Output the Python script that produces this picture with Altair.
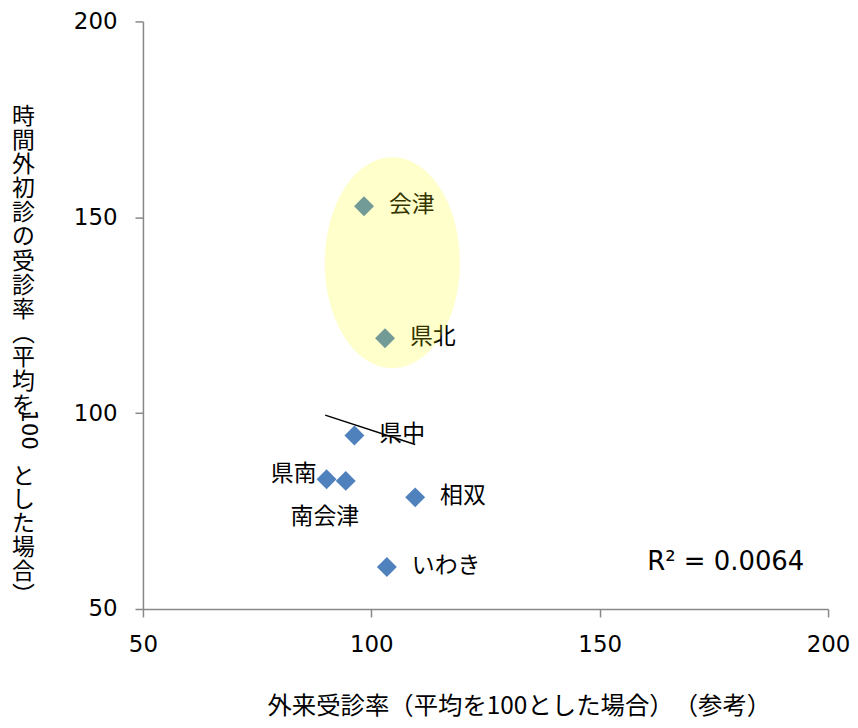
import altair as alt
import pandas as pd

# ---- data ----
names = ["会津", "県北", "県中", "県南", "南会津", "相双", "いわき"]
x_vals = [98.4, 103.0, 96.3, 90.2, 94.4, 109.6, 103.4]
y_vals = [152.8, 119.1, 94.3, 83.1, 82.7, 78.5, 60.7]

trend_x = [89.9, 109.6]
trend_y = [99.5, 92.0]

ellipse_x = [104.6]
ellipse_y = [138.4]

r2_text = ["R² = 0.0064"]
r2_x = [177.6]
r2_y = [62.1]

axis_ticks = [50, 100, 150, 200]
x_title = "外来受診率（平均を100とした場合）\u200b（参考）"
y_title_top = list("時間外初診の受診率︵平均を")
y_title_mid = "100"
y_title_bot = list("とした場合︶")

right_labels = ["会津", "県北", "県中", "相双", "いわき"]

pts = pd.DataFrame({"name": names, "x": x_vals, "y": y_vals})
trend = pd.DataFrame({"x": trend_x, "y": trend_y})
ell = pd.DataFrame({"x": ellipse_x, "y": ellipse_y})
r2 = pd.DataFrame({"t": r2_text, "x": r2_x, "y": r2_y})
one = pd.DataFrame({"k": [0]})

W, H = 688, 590
CJK = "Noto Sans CJK JP"
LAT = "DejaVu Sans"
AXC = "#888888"

xs = alt.Scale(domain=[50, 200], nice=False, zero=False)
ys = alt.Scale(domain=[50, 200], nice=False, zero=False)

X = alt.X(
    "x:Q",
    scale=xs,
    axis=alt.Axis(
        values=axis_ticks,
        title=x_title,
        titleFont=CJK,
        titleFontSize=24.5,
        titleFontWeight="normal",
        titleColor="black",
        titleAngle=0,
        titleAlign="left",
        titleBaseline="middle",
        titleX=124.5,
        titleY=98,
        labelFont=LAT,
        labelFontSize=23,
        labelColor="black",
        labelPadding=17,
        tickSize=8,
        tickColor=AXC,
        tickWidth=1.5,
        domainColor=AXC,
        domainWidth=1.5,
        grid=False,
        labelFlush=False,
        labelOverlap=False,
    ),
)
Y = alt.Y(
    "y:Q",
    scale=ys,
    axis=alt.Axis(
        values=axis_ticks,
        title=None,
        labelFont=LAT,
        labelFontSize=23,
        labelColor="black",
        labelPadding=18,
        tickSize=8,
        tickColor=AXC,
        tickWidth=1.5,
        domainColor=AXC,
        domainWidth=1.5,
        grid=False,
        labelFlush=False,
        labelOverlap=False,
    ),
)

base = alt.Chart(pts)

points = base.mark_point(shape="diamond", filled=True, size=400, color="#4F81BD", opacity=1).encode(x=X, y=Y)

lab_right = base.transform_filter(
    alt.FieldOneOfPredicate(field="name", oneOf=right_labels)
).mark_text(font=CJK, fontSize=23, align="left", baseline="middle", dx=25, dy=-1, color="black").encode(
    x=X, y=Y, text="name:N"
)
lab_kennan = base.transform_filter(alt.datum.name == "県南").mark_text(
    font=CJK, fontSize=23, align="right", baseline="middle", dx=-10, dy=-5, color="black"
).encode(x=X, y=Y, text="name:N")
lab_minami = base.transform_filter(alt.datum.name == "南会津").mark_text(
    font=CJK, fontSize=23, align="center", baseline="middle", dx=-21, dy=36, color="black"
).encode(x=X, y=Y, text="name:N")

trend_line = alt.Chart(trend).mark_line(color="black", strokeWidth=1.5).encode(x=X, y=Y)

ellipse = alt.Chart(ell).mark_point(
    shape="M -0.641 0 A 0.641 1 0 1 1 0.641 0 A 0.641 1 0 1 1 -0.641 0 Z",
    filled=True,
    size=44800,
    color="#FFFF00",
    opacity=0.2,
    strokeWidth=0,
).encode(x=X, y=Y)

r2_mark = alt.Chart(r2).mark_text(font=LAT, fontSize=26, align="center", baseline="middle", color="black").encode(
    x=X, y=Y, text="t:N"
)

yt_top = alt.Chart(one).mark_text(
    font=CJK, fontSize=23, lineHeight=24.2, lineBreak="\n", align="center", baseline="middle", color="black"
).encode(x=alt.value(-120), y=alt.value(96), text=alt.value("\n".join(y_title_top)))
yt_mid = alt.Chart(one).mark_text(
    font=LAT, fontSize=21, angle=90, align="center", baseline="middle", color="black"
).encode(x=alt.value(-115), y=alt.value(410), text=alt.value(y_title_mid))
yt_bot = alt.Chart(one).mark_text(
    font=CJK, fontSize=23, lineHeight=24, lineBreak="\n", align="center", baseline="middle", color="black"
).encode(x=alt.value(-120), y=alt.value(457), text=alt.value("\n".join(y_title_bot)))

chart = (
    alt.layer(points, lab_right, lab_kennan, lab_minami, trend_line, ellipse, r2_mark, yt_top, yt_mid, yt_bot)
    .properties(
        width=W,
        height=H,
        autosize=alt.AutoSizeParams(type="none"),
        padding={"left": 135.5, "top": 12, "right": 22, "bottom": 110},
    )
    .configure_view(stroke=None)
)

chart.save("out.html", embed_options={"renderer": "svg", "actions": False})
